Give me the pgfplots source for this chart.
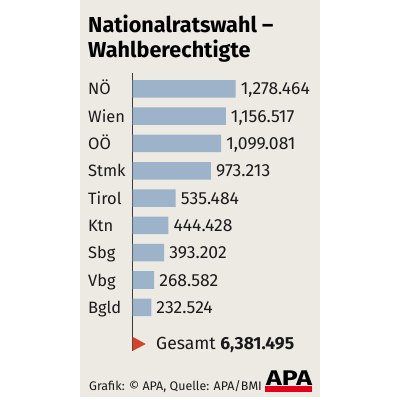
\documentclass[border=0pt]{standalone}
\usepackage{fontspec}
\setmainfont{Fira Sans}
\usepackage{graphicx}
\usepackage{pgfplots}
\usepackage{pgfplotstable}
\pgfplotsset{compat=1.18}
\definecolor{panel}{HTML}{EDEAE4}
\definecolor{barblue}{HTML}{9DB3C9}
\definecolor{apared}{HTML}{E2001A}
\definecolor{tri}{HTML}{D2432C}
\definecolor{axisgray}{HTML}{3A3A3A}
\definecolor{txt}{HTML}{1A1A1A}

\pgfplotstableread{
x y label
1278.464 0 1,278.464
1156.517 1 1,156.517
1099.081 2 1,099.081
973.213 3 973.213
535.484 4 535.484
444.428 5 444.428
393.202 6 393.202
268.582 7 268.582
232.524 8 232.524
}\datatab

\begin{document}
\begin{tikzpicture}[x=1bp,y=1bp]
\fill[white] (0,0) rectangle (400,400);
\fill[panel] (80,3) rectangle (320,400);
\node[anchor=base west, inner sep=0pt, text=black, font=\fontsize{21.7}{25}\selectfont\bfseries] at (88,368) {Nationalratswahl –};
\node[anchor=base west, inner sep=0pt, text=black, font=\fontsize{21.7}{25}\selectfont\bfseries] at (88,343) {Wahlberechtigte};
\begin{axis}[
  at={(132.5bp,49bp)}, anchor=south west,
  scale only axis, width=161.3bp, height=278bp,
  xmin=0, xmax=2000, ymin=-0.58, ymax=9.6, y dir=reverse,
  xbar, bar width=17.5bp, bar shift=0pt,
  axis x line=none, axis y line=left,
  y axis line style={-, draw=axisgray, line width=1bp},
  ytick={0,...,8}, yticklabels={NÖ,Wien,OÖ,Stmk,Tirol,Ktn,Sbg,Vbg,Bgld},
  major tick length=0pt,
  yticklabel style={anchor=base west, xshift=-44.5bp, yshift=-6bp, inner sep=0pt, text=txt, font=\fontsize{16.5}{19}\selectfont},
  clip=false,
  nodes near coords, point meta=explicit symbolic,
  nodes near coords style={anchor=base west, xshift=5bp, yshift=-6bp, inner sep=0pt, text=txt, font=\fontsize{17.6}{20}\selectfont},
]
\addplot[fill=barblue, draw=none] table[x=x,y=y,meta=label]{\datatab};
\end{axis}
\fill[tri] (132.5,63.3) -- (145.7,56) -- (132.5,49) -- cycle;
\node[anchor=base west, inner sep=0pt, text=txt, font=\fontsize{17.6}{20}\selectfont] at (156,51) {Gesamt \textbf{6,381.495}};
\node[anchor=base west, inner sep=0pt, text=txt, font=\fontsize{12.5}{15}\selectfont] at (89,10) {Grafik: © APA, Quelle: APA/BMI};
\fill[apared] (265,8.3) rectangle (312.3,14.3);
\node[anchor=south west, inner sep=0pt] at (266,14.3) {\resizebox{45.7bp}{14.7bp}{\bfseries APA}};
\pgfresetboundingbox
\path[use as bounding box] (0,0) rectangle (400,400);
\end{tikzpicture}
\end{document}
